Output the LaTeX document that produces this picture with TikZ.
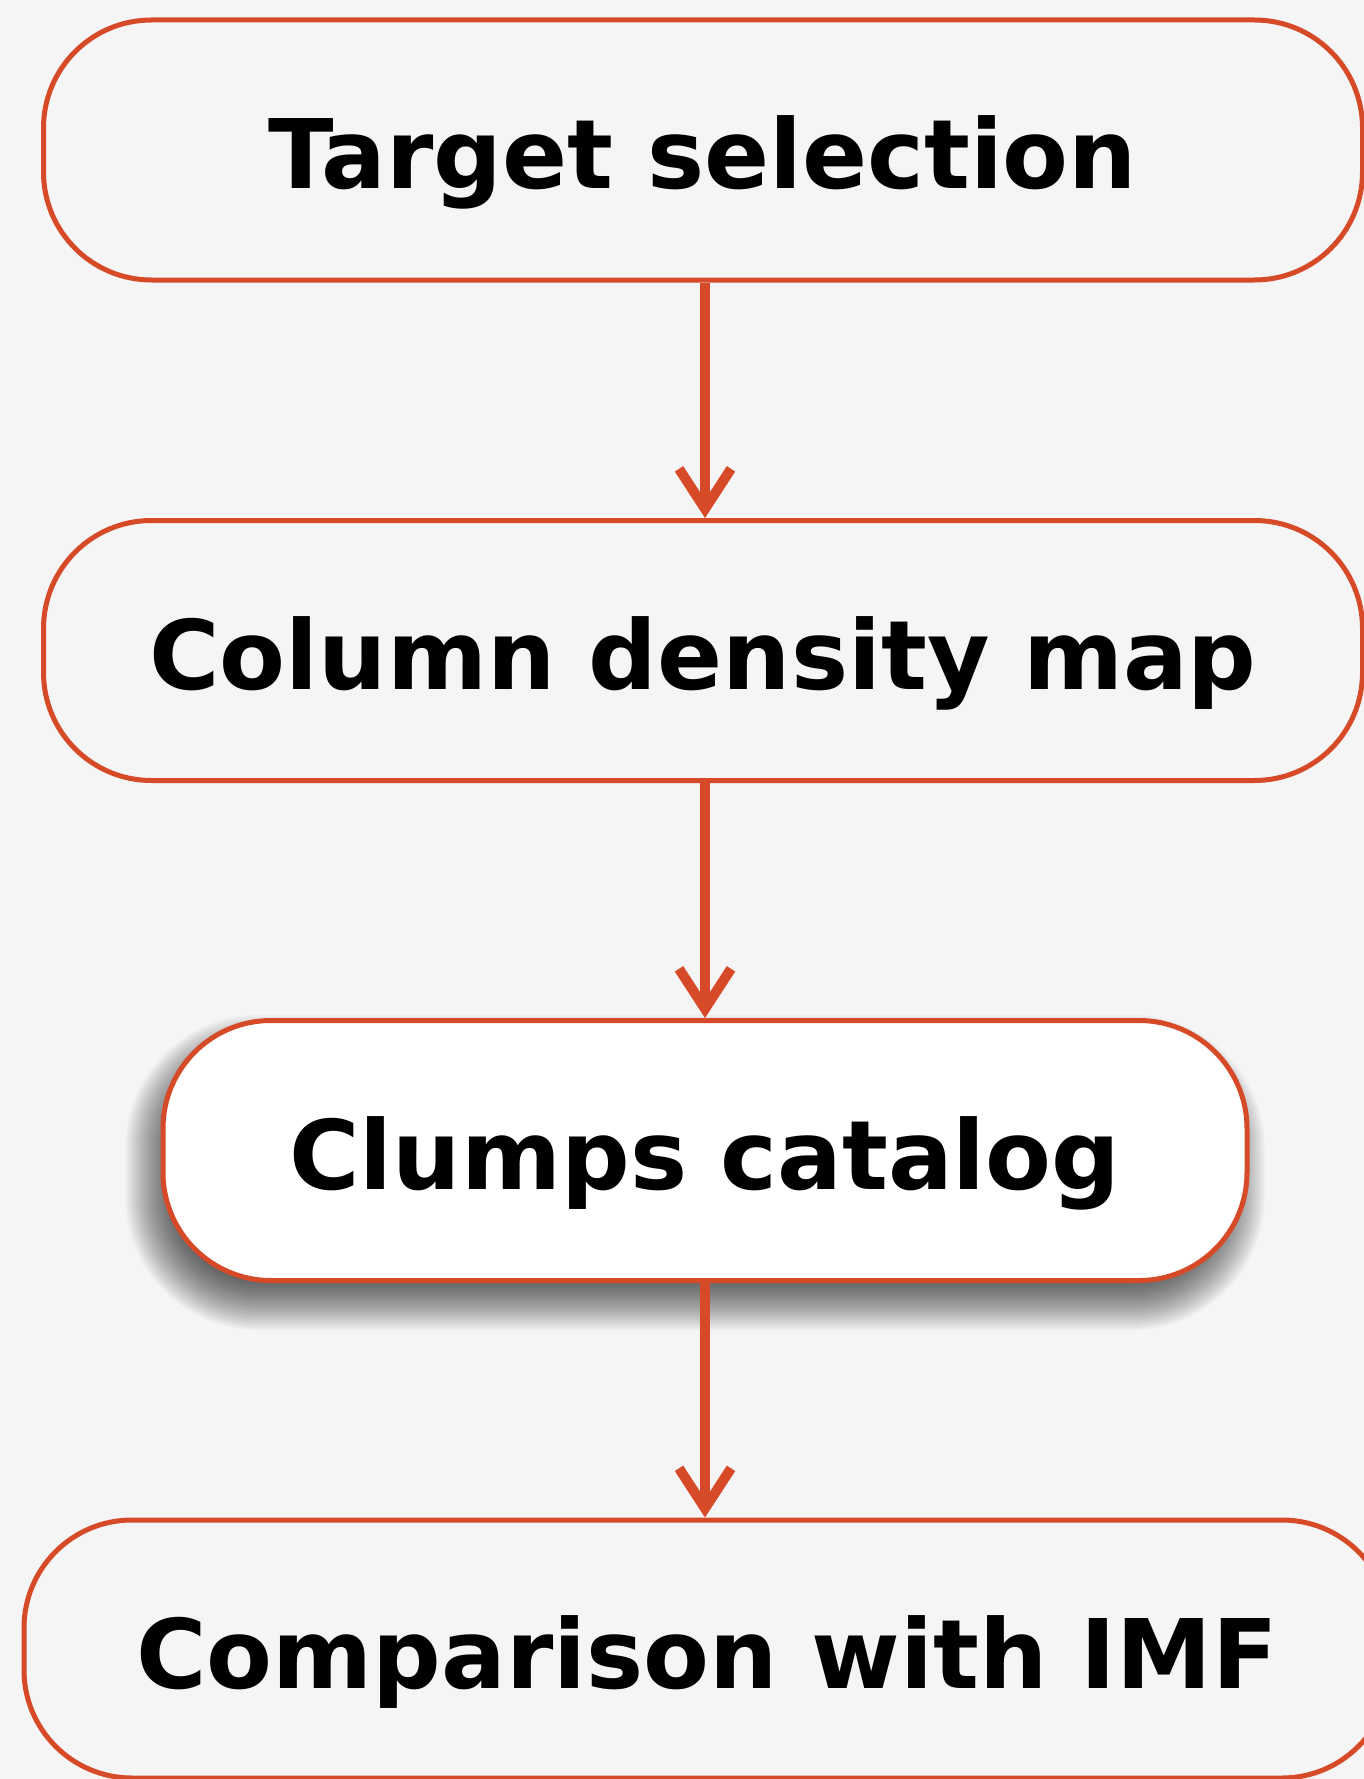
\documentclass[tikz,border=0pt]{standalone}
\usepackage{fontspec}
\setmainfont{DejaVu Sans}
\usetikzlibrary{arrows.meta,calc,backgrounds}
\definecolor{bord}{RGB}{214,74,40}
\definecolor{bg}{RGB}{245,245,245}
\begin{document}
\begin{tikzpicture}[x=1pt,y=-1pt,
  box/.style={draw=bord,line width=5pt,rounded corners=108pt,fill=bg,inner sep=0pt,
    text height=78pt,text depth=0pt,font=\fontsize{96}{110}\selectfont\bfseries,
    minimum height=260pt},
  conn/.style={draw=bord,line width=10pt,-{Straight Barb[length=40pt,width=52pt]}},
  shadowlayer/.style={fill=black,opacity=0.03}]
\begin{scope}[on background layer]
\fill[bg] (0,0) rectangle (1364,1779);
\end{scope}
\useasboundingbox (0,0) rectangle (1364,1779);
\node[box, minimum width=1319pt] (t) at (703,150) {Target selection};
\node[box, minimum width=1319pt] (c) at (703,650.5) {Column density map};
\node[box, minimum width=1084pt, fill=white] (k) at (705,1150.5) {Clumps catalog};
\node[box, minimum width=1366pt, minimum height=258pt] (m) at (707,1649) {Comparison with IMF};
\begin{scope}[on background layer]
\foreach \e in {25,23,...,-25}{
  \pgfmathsetmacro{\rr}{108+\e}
  \fill[shadowlayer, rounded corners=\rr pt]
    ($(k.north west)+(-10-\e,22-\e)$) rectangle ($(k.south east)+(-10+\e,22+\e)$);
}
\end{scope}
\draw[conn] (t.south -| k.center) -- (c.north -| k.center);
\draw[conn] (c.south -| k.center) -- (k.north);
\draw[conn] (k.south) -- (k.south |- m.north);
\end{tikzpicture}
\end{document}
